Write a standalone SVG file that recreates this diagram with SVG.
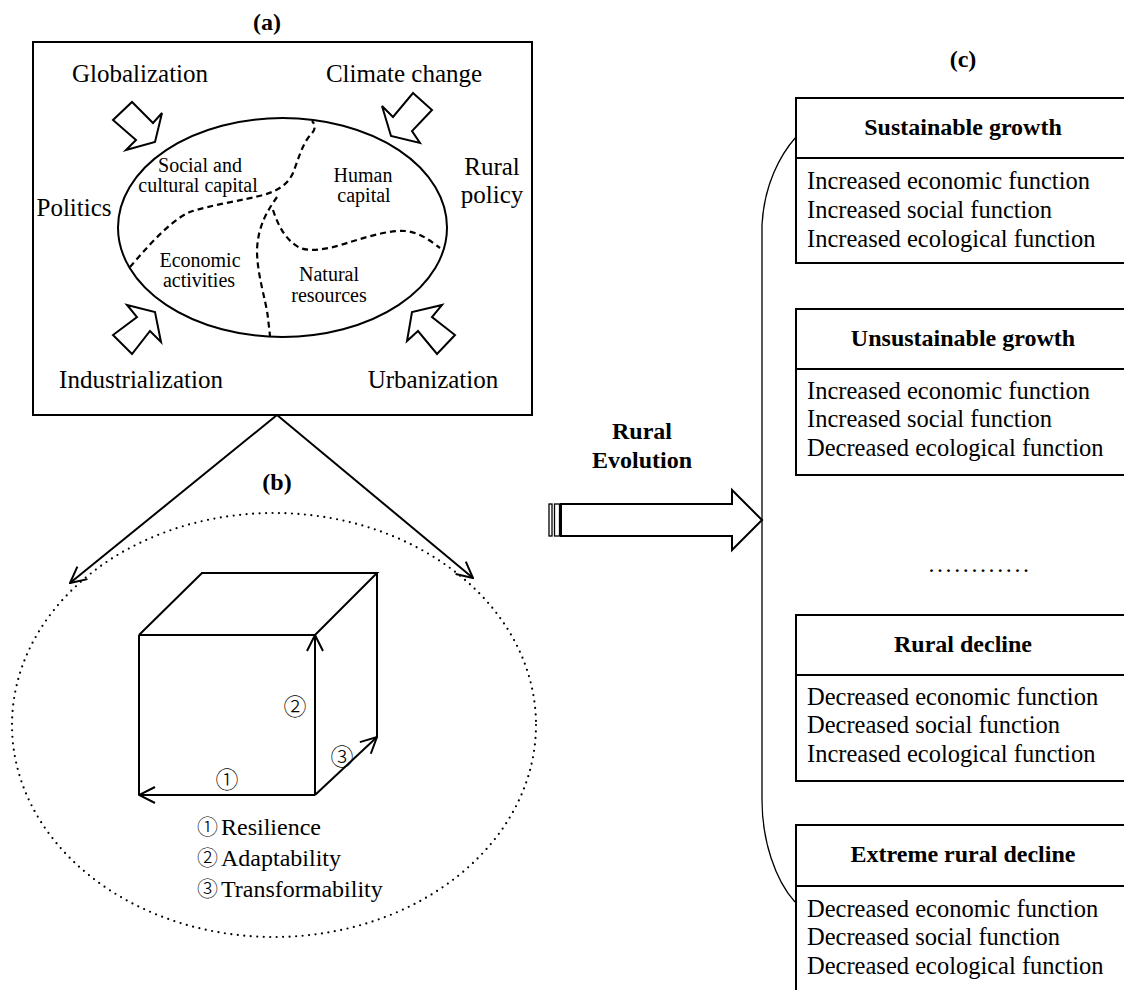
<svg xmlns="http://www.w3.org/2000/svg" width="1124" height="990" viewBox="0 0 1124 990">
<style>
text{font-family:"Liberation Serif","Times New Roman","Noto Sans CJK JP",serif;fill:#000}
.cj{font-family:"Noto Sans CJK JP","Noto Sans CJK SC",sans-serif;font-weight:300}
.lbl{font-size:24px;font-weight:bold;text-anchor:middle}
.big{font-size:25px;text-anchor:middle}
.in{font-size:20px;text-anchor:middle}
.ttl{font-size:24px;font-weight:bold;text-anchor:middle}
.body{font-size:24.5px}
.ln{fill:none;stroke:#000;stroke-width:2}
.thin{fill:none;stroke:#000;stroke-width:1.3}
.blk{fill:#fff;stroke:#000;stroke-width:2;stroke-linejoin:miter}
.dash{fill:none;stroke:#000;stroke-width:2.2;stroke-dasharray:6 4}
.box{fill:#fff;stroke:#000;stroke-width:2}
</style>
<defs>
<marker id="open" viewBox="0 0 18 18" refX="17" refY="9" markerWidth="18" markerHeight="18" markerUnits="userSpaceOnUse" orient="auto">
<path d="M1,1 L17,9 L1,17" fill="none" stroke="#000" stroke-width="2"/>
</marker>
</defs>
<rect width="1124" height="990" fill="#fff"/>

<g id="panel-a">
<text class="lbl" x="267" y="30">(a)</text>
<rect class="ln" x="33" y="42" width="499" height="373"/>
<text class="big" x="140" y="82">Globalization</text>
<text class="big" x="404" y="82">Climate change</text>
<text class="big" x="74" y="216">Politics</text>
<text class="big" x="492" y="175">Rural</text>
<text class="big" x="492" y="203">policy</text>
<text class="big" x="141" y="388">Industrialization</text>
<text class="big" x="433" y="388">Urbanization</text>
<polygon class="blk" points="113,120 132,102 153,123 162,113 155,142 126,150 136,140"/>
<polygon class="blk" points="413,93 432,110 412,131 420,143 391,136 382,106 393,117"/>
<polygon class="blk" points="113,335 132,354 150,331 161,342 155,312 127,305 137,317"/>
<polygon class="blk" points="455,335 437,354 418,331 407,341 412,312 442,305 432,317"/>
<ellipse class="ln" cx="282.5" cy="227.5" rx="164.5" ry="109.5"/>
<path class="dash" d="M130,267 C143,252 170,220 190,212 C210,205 245,200 263,195 C278,191 288,184 293,173 C298,160 302,146 308,138 C313,132 318,128 312,121"/>
<path class="dash" d="M277,197 C268,210 258,225 257,250 C257,275 266,300 268,318 C269,328 270,334 270,337"/>
<path class="dash" d="M273,210 C278,225 285,240 300,248 C315,253 335,247 350,242 C370,236 390,230 405,231 C420,232 432,242 440,248"/>
<text class="in" x="200" y="172">Social and</text>
<text class="in" x="198" y="192">cultural capital</text>
<text class="in" x="363" y="182">Human</text>
<text class="in" x="364" y="202">capital</text>
<text class="in" x="200" y="267">Economic</text>
<text class="in" x="199" y="287">activities</text>
<text class="in" x="329" y="281">Natural</text>
<text class="in" x="329" y="302">resources</text>
</g>

<g id="panel-b">
<text class="lbl" x="277" y="490">(b)</text>
<ellipse cx="274" cy="725" rx="262" ry="212" fill="none" stroke="#000" stroke-width="2.2" stroke-dasharray="0 6.5" stroke-linecap="round"/>
<line class="ln" x1="139" y1="635" x2="139" y2="795"/>
<line class="ln" x1="139" y1="635" x2="315" y2="635"/>
<polyline class="ln" points="139,635 202,573 377,573 315,635"/>
<line class="ln" x1="377" y1="573" x2="377" y2="737"/>
<line class="ln" x1="315" y1="795" x2="139" y2="795" marker-end="url(#open)"/>
<line class="ln" x1="315" y1="795" x2="315" y2="635" marker-end="url(#open)"/>
<line class="ln" x1="315" y1="795" x2="377" y2="737" marker-end="url(#open)"/>
<text class="cj" x="227" y="788" font-size="23px" text-anchor="middle">①</text>
<text class="cj" x="295" y="715" font-size="23px" text-anchor="middle">②</text>
<text class="cj" x="342" y="765" font-size="23px" text-anchor="middle">③</text>
<text class="cj" x="197" y="834" font-size="21px">①</text>
<text x="221" y="835" font-size="24px">Resilience</text>
<text class="cj" x="197" y="865" font-size="21px">②</text>
<text x="221" y="866" font-size="24px">Adaptability</text>
<text class="cj" x="197" y="896" font-size="21px">③</text>
<text x="221" y="897" font-size="24px">Transformability</text>
</g>

<g id="connectors">
<line class="ln" x1="277" y1="415" x2="70" y2="583" marker-end="url(#open)"/>
<line class="ln" x1="277" y1="415" x2="473" y2="578" marker-end="url(#open)"/>
<polygon class="blk" points="561,504 732,504 732,490 762,520 732,550 732,536 561,536"/>
<rect x="549" y="504" width="3" height="32" fill="#fff" stroke="#000" stroke-width="1.3"/>
<rect x="554.5" y="504" width="5" height="32" fill="#fff" stroke="#000" stroke-width="1.3"/>
<path class="thin" d="M796,137 C780,155 764,185 762,225 L762,800 C762,840 775,880 795,902"/>
</g>

<g id="rural-evolution">
<text class="ttl" x="642" y="439">Rural</text>
<text class="ttl" x="642" y="468">Evolution</text>
</g>

<g id="panel-c">
<text class="lbl" x="963" y="67">(c)</text>
<text x="980" y="572" font-size="24px" text-anchor="middle" letter-spacing="2.6">............</text>
</g>

<g id="box-sustainable">
<rect class="box" x="796" y="98" width="340" height="165"/>
<line class="ln" x1="796" y1="158" x2="1130" y2="158"/>
<text class="ttl" x="963" y="135">Sustainable growth</text>
<text class="body" x="807" y="189">Increased economic function</text>
<text class="body" x="807" y="218">Increased social function</text>
<text class="body" x="807" y="247">Increased ecological function</text>
</g>

<g id="box-unsustainable">
<rect class="box" x="796" y="309" width="340" height="166"/>
<line class="ln" x1="796" y1="369" x2="1130" y2="369"/>
<text class="ttl" x="963" y="346">Unsustainable growth</text>
<text class="body" x="807" y="399">Increased economic function</text>
<text class="body" x="807" y="427">Increased social function</text>
<text class="body" x="807" y="456">Decreased ecological function</text>
</g>

<g id="box-decline">
<rect class="box" x="796" y="615" width="340" height="166"/>
<line class="ln" x1="796" y1="675" x2="1130" y2="675"/>
<text class="ttl" x="963" y="652">Rural decline</text>
<text class="body" x="807" y="705">Decreased economic function</text>
<text class="body" x="807" y="733">Decreased social function</text>
<text class="body" x="807" y="762">Increased ecological function</text>
</g>

<g id="box-extreme">
<rect class="box" x="796" y="825" width="340" height="180"/>
<line class="ln" x1="796" y1="886" x2="1130" y2="886"/>
<text class="ttl" x="963" y="862">Extreme rural decline</text>
<text class="body" x="807" y="917">Decreased economic function</text>
<text class="body" x="807" y="945">Decreased social function</text>
<text class="body" x="807" y="974">Decreased ecological function</text>
</g>
</svg>
